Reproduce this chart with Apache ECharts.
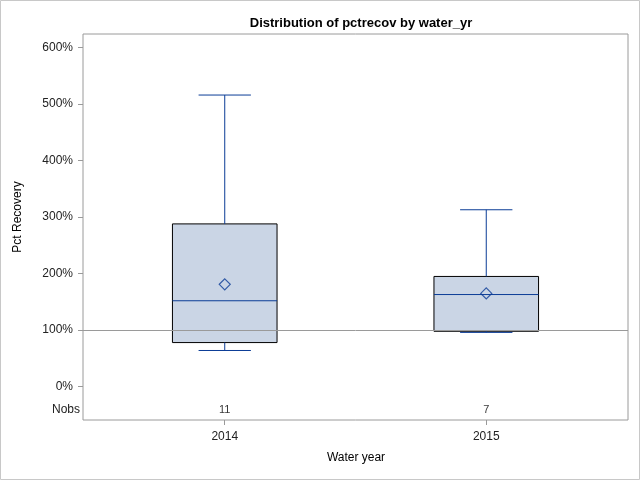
<!DOCTYPE html>
<html>
<head>
<meta charset="utf-8">
<script src="https://cdn.jsdelivr.net/npm/echarts@6/dist/echarts.min.js"></script>
<style>html,body{margin:0;padding:0;background:#fff}#c{width:640px;height:480px}</style>
</head>
<body>
<div id="c"></div>
<script>
const years = ['2014', '2015'];
const whiskerLow = [64, 96];
const q1 = [78, 98];
const median = [152, 163];
const q3 = [288, 195];
const whiskerHigh = [516, 313];
const means = [181, 165];
const nobs = [11, 7];
const yTicks = [0, 100, 200, 300, 400, 500, 600];
const refValue = 100;
const nobsRowValue = -42;

const BLUE = '#0b3c96';
const boxData = years.map((y, i) => [i, whiskerLow[i], q1[i], median[i], q3[i], whiskerHigh[i]]);
const meanData = years.map((y, i) => [i, means[i]]);
const nobsData = years.map((y, i) => [i, nobsRowValue, nobs[i]]);

const chart = echarts.init(document.getElementById('c'), null, {renderer: 'canvas'});
const font = 'Liberation Sans, Arial, sans-serif';

chart.setOption({
  animation: false,
  backgroundColor: '#fff',
  textStyle: {fontFamily: font},
  title: {
    text: 'Distribution of pctrecov by water_yr',
    left: 356, top: 12, textAlign: 'center',
    textStyle: {fontFamily: font, fontSize: 13, fontWeight: 'bold', color: '#000'}
  },
  graphic: [
    {type: 'rect', shape: {x: 0.5, y: 0.5, width: 639, height: 479}, style: {fill: 'none', stroke: '#c8c8c8', lineWidth: 1}, silent: true},
    {type: 'text', x: 18, y: 217, rotation: Math.PI / 2, style: {text: 'Pct Recovery', font: '12px ' + font, fill: '#000', align: 'center', verticalAlign: 'middle'}},
    {type: 'text', x: 356, y: 458, style: {text: 'Water year', font: '12px ' + font, fill: '#000', align: 'center', verticalAlign: 'middle'}},
    {type: 'text', x: 80, y: 410, style: {text: 'Nobs', font: '12px ' + font, fill: '#222', align: 'right', verticalAlign: 'middle'}}
  ],
  grid: {left: 83, top: 34, width: 545, height: 386, show: true, borderColor: '#9a9a9a', borderWidth: 1, backgroundColor: '#fff'},
  xAxis: {
    type: 'value', min: -0.542, max: 1.542,
    axisLine: {show: false, onZero: false},
    splitLine: {show: false},
    axisTick: {show: true, length: 5, customValues: [0, 1], lineStyle: {color: '#9a9a9a'}},
    axisLabel: {customValues: [0, 1], formatter: v => years[Math.round(v)], fontSize: 12, color: '#222', margin: 11, fontFamily: font}
  },
  yAxis: {
    type: 'value', min: -59, max: 624,
    axisLine: {show: false, onZero: false},
    splitLine: {show: false},
    axisTick: {show: true, length: 5, customValues: yTicks, lineStyle: {color: '#9a9a9a'}},
    axisLabel: {customValues: yTicks, formatter: v => v + '%', fontSize: 12, color: '#222', margin: 10, fontFamily: font}
  },
  series: [
    {
      type: 'custom',
      data: boxData,
      renderItem: function (params, api) {
        const x = api.value(0);
        const hw = 0.2, cw = 0.1;
        const P = (dx, v) => api.coord([x + dx, v]);
        const lo = api.value(1), a = api.value(2), m = api.value(3), b = api.value(4), hi = api.value(5);
        const tl = P(-hw, b), br = P(hw, a);
        const ls = {stroke: BLUE, lineWidth: 1};
        return {
          type: 'group',
          children: [
            {type: 'rect', shape: {x: tl[0], y: tl[1], width: br[0] - tl[0], height: br[1] - tl[1]}, style: {fill: '#cad5e5', stroke: '#000', lineWidth: 1}},
            {type: 'line', shape: {x1: P(-hw, m)[0], y1: P(-hw, m)[1], x2: P(hw, m)[0], y2: P(hw, m)[1]}, style: ls},
            {type: 'line', shape: {x1: P(0, b)[0], y1: P(0, b)[1], x2: P(0, hi)[0], y2: P(0, hi)[1]}, style: ls},
            {type: 'line', shape: {x1: P(0, a)[0], y1: P(0, a)[1], x2: P(0, lo)[0], y2: P(0, lo)[1]}, style: ls},
            {type: 'line', shape: {x1: P(-cw, hi)[0], y1: P(-cw, hi)[1], x2: P(cw, hi)[0], y2: P(cw, hi)[1]}, style: ls},
            {type: 'line', shape: {x1: P(-cw, lo)[0], y1: P(-cw, lo)[1], x2: P(cw, lo)[0], y2: P(cw, lo)[1]}, style: ls}
          ]
        };
      },
      z: 2
    },
    {
      type: 'scatter',
      data: meanData,
      symbol: 'diamond',
      symbolSize: [11, 11],
      itemStyle: {color: 'rgba(0,0,0,0)', borderColor: BLUE, borderWidth: 1.2},
      z: 4,
      markLine: {
        silent: true, symbol: 'none', label: {show: false},
        lineStyle: {color: '#9a9a9a', width: 1, type: 'solid'},
        data: [{yAxis: refValue}]
      }
    },
    {
      type: 'scatter',
      data: nobsData,
      symbolSize: 0,
      label: {show: true, position: 'inside', formatter: p => String(p.value[2]), fontSize: 11, color: '#000', fontFamily: font},
      z: 4
    }
  ]
});
</script>
</body>
</html>
